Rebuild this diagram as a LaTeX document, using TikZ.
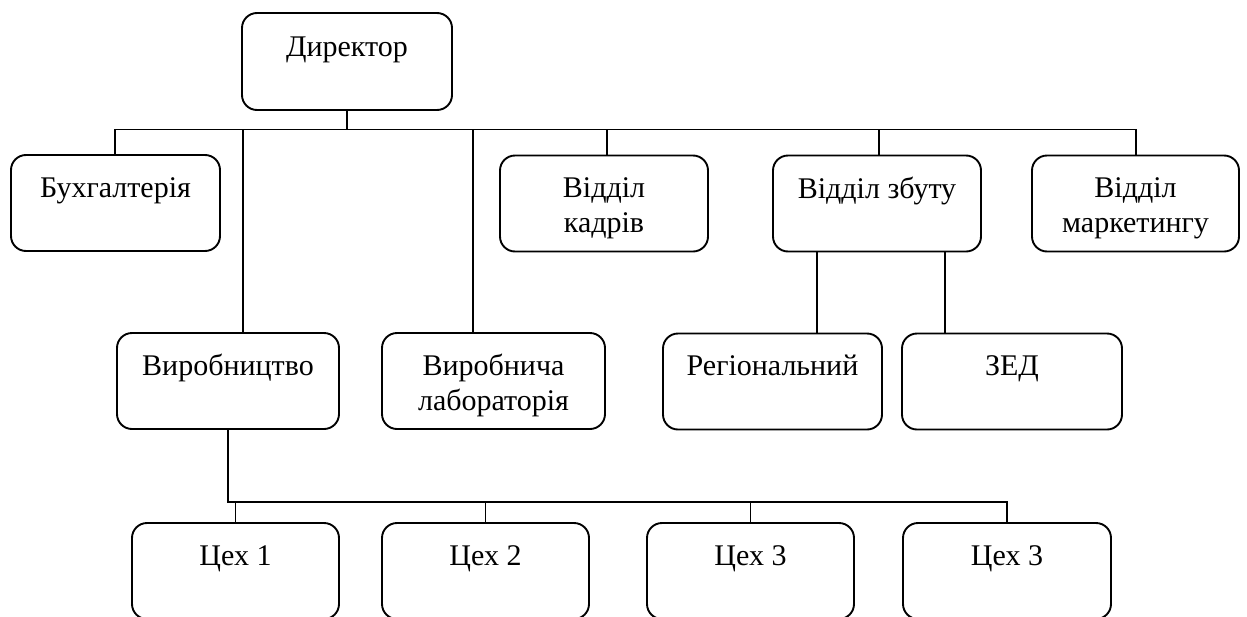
\documentclass[tikz,border=0pt]{standalone}
\usepackage{fontspec}
\setmainfont{Liberation Serif}
\begin{document}
\begin{tikzpicture}[x=1pt,y=-1pt,
  box/.style={draw, line width=1.9pt, rounded corners=15pt, inner sep=0pt, minimum height=96pt},
  txt/.style={anchor=base, inner sep=0pt, align=center, font=\fontsize{30}{35}\selectfont},
  conn/.style={line width=1.9pt}]
\clip (0,0) rectangle (1247,616);
\fill[white] (0,0) rectangle (1247,616);
% boxes
\node[box, minimum width=210pt, minimum height=97pt] (dir) at (347,61.5) {};
\node[box, minimum width=209pt] (buh) at (115.5,203) {};
\node[box, minimum width=208pt] (kad) at (604,203.5) {};
\node[box, minimum width=208pt] (zbut) at (877,203.5) {};
\node[box, minimum width=207pt] (mark) at (1135.5,203.5) {};
\node[box, minimum width=222pt] (vyr) at (228,381) {};
\node[box, minimum width=223pt] (lab) at (493.5,381) {};
\node[box, minimum width=219pt] (reg) at (772.5,381.5) {};
\node[box, minimum width=220pt] (zed) at (1012,381.5) {};
\node[box, minimum width=207pt] (c1) at (235.5,571) {};
\node[box, minimum width=207pt] (c2) at (485.5,571) {};
\node[box, minimum width=207pt] (c3) at (750.5,571) {};
\node[box, minimum width=208pt] (c4) at (1007,571) {};
% texts (base anchor = baseline of the last line)
\node[txt] (dirt) at ([yshift=-44pt]dir.north) {Директор};
\node[txt] (buht) at ([yshift=-43pt]buh.north) {Бухгалтерія};
\node[txt] (kadt) at ([yshift=-78pt]kad.north) {Відділ\\кадрів};
\node[txt] (zbutt) at ([yshift=-44pt]zbut.north) {Відділ збуту};
\node[txt] (markt) at ([yshift=-78pt]mark.north) {Відділ\\маркетингу};
\node[txt] (vyrt) at ([yshift=-43pt]vyr.north) {Виробництво};
\node[txt] (labt) at ([yshift=-78pt]lab.north) {Виробнича\\лабораторія};
\node[txt] (regt) at ([yshift=-43pt]reg.north) {Регіональний};
\node[txt] (zedt) at ([yshift=-43pt]zed.north) {ЗЕД};
\node[txt] (c1t) at ([yshift=-43pt]c1.north) {Цех 1};
\node[txt] (c2t) at ([yshift=-43pt]c2.north) {Цех 2};
\node[txt] (c3t) at ([yshift=-43pt]c3.north) {Цех 3};
\node[txt] (c4t) at ([yshift=-43pt]c4.north) {Цех 3};
% bus coordinates
\coordinate (busL) at (115,129.5);
\coordinate (busR) at (1136,129.5);
\coordinate (bus2) at (228,502);
% connectors
\draw[conn] (dir.south) -- (dir.south |- busL);
\draw[conn] (buh.north -| busL) |- (busR) -- (busR |- mark.north);
\draw[conn] ([xshift=15pt]vyr.north) -- ([xshift=15pt]vyr.north |- busL);
\draw[conn] ([xshift=-20.5pt]lab.north) -- ([xshift=-20.5pt]lab.north |- busL);
\draw[conn] ([xshift=3pt]kad.north) -- ([xshift=3pt]kad.north |- busL);
\draw[conn] ([xshift=2pt]zbut.north) -- ([xshift=2pt]zbut.north |- busL);
\draw[conn] ([xshift=44.5pt]reg.north) -- ([xshift=44.5pt]reg.north |- zbut.south);
\draw[conn] ([xshift=-67pt]zed.north) -- ([xshift=-67pt]zed.north |- zbut.south);
\draw[conn] (vyr.south) -- (bus2) -- (bus2 -| c4.north) -- (c4.north);
\draw[conn] (c1.north) -- (c1.north |- bus2);
\draw[conn] (c2.north) -- (c2.north |- bus2);
\draw[conn] (c3.north) -- (c3.north |- bus2);
\end{tikzpicture}
\end{document}
